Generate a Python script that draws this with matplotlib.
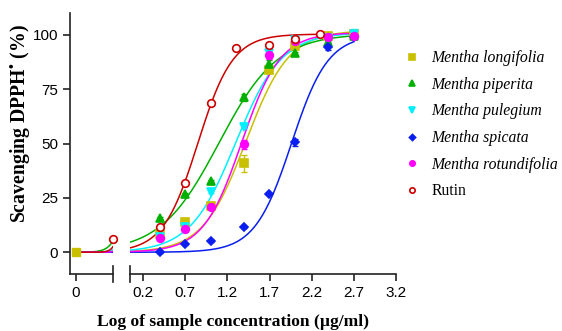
import numpy as np
import matplotlib
matplotlib.use('Agg')
import matplotlib.pyplot as plt

# Data (log10 of concentration in ug/ml, % scavenging)
log_conc = [0.398, 0.699, 1.0, 1.398, 1.699, 2.0, 2.398, 2.699]
longifolia = [8.3, 14.1, 21.4, 40.9, 83.8, 94.8, 99.5, 100.2]
piperita = [15.6, 26.6, 32.8, 71.2, 86.7, 91.4, 96.8, 99.5]
pulegium = [7.0, 11.5, 27.9, 57.4, 91.4, 97.5, 98.5, 100.5]
spicata = [0.2, 3.7, 5.1, 11.5, 26.8, 50.5, 94.5, 99.0]
rotundifolia = [6.4, 10.6, 20.7, 49.6, 90.7, 97.0, 98.8, 99.5]

longifolia_err = [0.5, 0.5, 1.0, 4.0, 1.0, 0.5, 0.5, 0.5]
piperita_err = [0.5, 0.5, 0.5, 1.5, 1.5, 0.5, 0.5, 0.5]
pulegium_err = [0.5, 0.5, 0.5, 0.5, 1.5, 0.5, 0.5, 2.0]
spicata_err = [0.5, 0.5, 0.5, 0.5, 0.5, 1.5, 1.5, 0.5]
rotundifolia_err = [0.5, 0.5, 0.5, 2.0, 2.0, 0.5, 0.5, 0.5]

rutin_conc = [0.097, 0.398, 0.699, 1.0, 1.301, 1.699, 2.0, 2.301]
rutin = [6.0, 11.6, 31.8, 68.5, 93.7, 95.4, 98.0, 100.2]

# zero dose is shown on the left segment at this position, labelled "0"
x_zero = -2.0
split = 0.1

# fitted sigmoid parameters (bottom, top, logEC50, hill slope)
fits = {
    'longifolia': (0, 102.0, 1.42, 1.7),
    'piperita': (0, 100.5, 1.10, 1.25),
    'pulegium': (0, 101.0, 1.30, 1.6),
    'spicata': (0, 100.0, 1.96, 2.0),
    'rotundifolia': (0, 101.0, 1.37, 1.9),
    'rutin': (0, 100.3, 0.85, 2.1),
}


def sigmoid(x, p):
    bottom, top, ec50, hill = p
    return bottom + (top - bottom) / (1 + 10 ** ((ec50 - x) * hill))


series = [
    ('Mentha longifolia', 'longifolia', log_conc, longifolia, longifolia_err, '#C8C000', 's', True),
    ('Mentha piperita', 'piperita', log_conc, piperita, piperita_err, '#00B000', '^', True),
    ('Mentha pulegium', 'pulegium', log_conc, pulegium, pulegium_err, '#00F0FF', 'v', True),
    ('Mentha spicata', 'spicata', log_conc, spicata, spicata_err, '#0A1EF0', 'D', True),
    ('Mentha rotundifolia', 'rotundifolia', log_conc, rotundifolia, rotundifolia_err, '#FF00FF', 'o', True),
    ('Rutin', 'rutin', rutin_conc, rutin, None, '#CC0000', 'o', False),
]

plt.rcParams['mathtext.fontset'] = 'custom'
plt.rcParams['mathtext.rm'] = 'Liberation Serif:bold'
plt.rcParams['mathtext.bf'] = 'Liberation Serif:bold'

fig = plt.figure(figsize=(5.62, 3.31), dpi=100)
bottom = 1 - 274 / 331
height = 261 / 331
axL = fig.add_axes([70 / 562, bottom, 43 / 562, height])
axR = fig.add_axes([130 / 562, bottom, 266 / 562, height])

tick_font = {'family': 'Liberation Sans', 'size': 11}
handles = []
for label, key, xs, ys, err, color, marker, filled in series:
    p = fits[key]
    ms = 4.5 if marker == 'D' else 5.5
    mfc = color if filled else 'white'
    # right segment
    keep = [i for i, x in enumerate(xs) if x > split]
    xr = [xs[i] for i in keep]
    yr = [ys[i] for i in keep]
    xc = np.linspace(0.045, max(xs), 300)
    axR.plot(xc, sigmoid(xc, p), color=color, lw=1.1, zorder=2)
    if err is not None:
        axR.errorbar(xr, yr, yerr=[err[i] for i in keep], fmt='none', ecolor=color,
                     elinewidth=1, capsize=2.5, zorder=3)
    h, = axR.plot(xr, yr, linestyle='none', marker=marker, ms=ms, color=color,
                  mfc=mfc, mec=color, mew=1.2, zorder=4, clip_on=False)
    handles.append(h)
    # left segment
    xl = np.linspace(x_zero, split, 200)
    axL.plot(xl, sigmoid(xl, p), color=color, lw=1.1, zorder=2)
    xs_left = [x for x in xs if x <= split]
    ys_left = [y for x, y in zip(xs, ys) if x <= split]
    if xs_left:
        axL.plot(xs_left, ys_left, linestyle='none', marker=marker, ms=ms, color=color,
                 mfc=mfc, mec=color, mew=1.2, zorder=4, clip_on=False)

# zero-dose points (all at 0, square on top)
axL.plot([x_zero], [0], linestyle='none', marker='s', ms=6, color='#C8C000', zorder=5, clip_on=False)

for ax in (axL, axR):
    ax.set_ylim(-10, 110)
    ax.spines['top'].set_visible(False)
    ax.spines['right'].set_visible(False)
    ax.spines['bottom'].set_linewidth(1.2)
    ax.spines['bottom'].set_color('#222222')
    ax.tick_params(axis='x', direction='out', length=5, width=1.2, colors='#222222', labelcolor='black')
    ax.set_facecolor('none')

axL.set_xlim(-2.34, split)
axL.set_xticks([x_zero])
axL.set_xticklabels(['0'], fontdict=tick_font)
axL.set_yticks([0, 25, 50, 75, 100])
axL.set_yticklabels(['0', '25', '50', '75', '100'], fontdict=tick_font)
axL.spines['left'].set_linewidth(1.2)
axL.spines['left'].set_color('#222222')
axL.tick_params(axis='y', direction='out', length=5, width=1.2, colors='#222222', labelcolor='black')
axL.plot([1, 1], [-0.03, 0.03], transform=axL.transAxes, color='#222222', lw=1.2, clip_on=False)

axR.set_xlim(0.045, 3.2)
xticks = [0.2, 0.7, 1.2, 1.7, 2.2, 2.7, 3.2]
axR.set_xticks(xticks)
axR.set_xticklabels([str(t) for t in xticks], fontdict=tick_font)
axR.spines['left'].set_visible(False)
axR.set_yticks([])
axR.plot([0, 0], [-0.03, 0.03], transform=axR.transAxes, color='#222222', lw=1.2, clip_on=False)

fig.text(0.415, 0.027, 'Log of sample concentration (\u00b5g/ml)', ha='center', va='center',
         family='Liberation Serif', weight='bold', size=12.6)
fig.text(0.036, 0.628, 'Scavenging DPPH$^{\\mathrm{\u2022}}$ (%)', ha='center', va='center',
         rotation=90, family='Liberation Serif', weight='bold', size=14.2)

leg = fig.legend(handles, [s[0] for s in series], loc='upper left', bbox_to_anchor=(388 / 562, 1 - 36 / 331),
                 frameon=False, prop={'family': 'Liberation Serif', 'size': 11.3},
                 markerscale=0.7, handletextpad=0.65, labelspacing=0.68, handlelength=1.2)
for t in leg.get_texts()[:5]:
    t.set_style('italic')

fig.savefig('out.png', dpi=100)
